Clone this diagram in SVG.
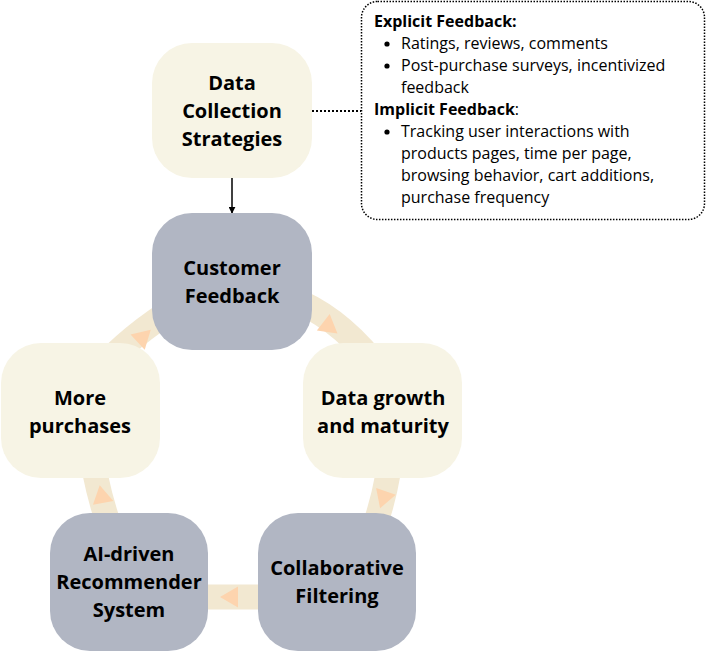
<svg xmlns="http://www.w3.org/2000/svg" width="707" height="651" viewBox="0 0 707 651">
<defs>
<style>
.cream{fill:#f7f4e5;}
.grey{fill:#b1b6c3;}
.lbl{font-family:"Open Sans","DejaVu Sans",sans-serif;font-weight:bold;font-size:20px;fill:#000;text-anchor:middle;}
.band{fill:none;stroke:#f2e8d1;stroke-width:25;}
.tri{fill:#fdd4ae;}
.note{font-family:"Open Sans","DejaVu Sans",sans-serif;font-size:16px;fill:#000;}
.b{font-weight:bold;}
.dot{fill:#000;}
</style>
<polygon id="tri" points="12,0 -6,-10.4 -6,10.4"/>
<marker id="ah" viewBox="0 0 10 10" refX="9" refY="5" markerWidth="7" markerHeight="7" orient="auto" markerUnits="userSpaceOnUse">
<path d="M0,0 L10,5 L0,10 z" fill="#000"/>
</marker>
</defs>
<g id="connectors">
<path class="band" d="M 290 298 Q 335 315 372 360"/>
<path class="band" d="M 392 440 Q 389 490 368 545"/>
<path class="band" d="M 300 597 L 165 597"/>
<path class="band" d="M 90 440 Q 95 490 116 545"/>
<path class="band" d="M 95 375 Q 130 335 180 305"/>
<use href="#tri" class="tri" transform="translate(328,326) rotate(38)"/>
<use href="#tri" class="tri" transform="translate(384,497) rotate(109)"/>
<use href="#tri" class="tri" transform="translate(232,597) rotate(180)"/>
<use href="#tri" class="tri" transform="translate(102,497) rotate(-101)"/>
<use href="#tri" class="tri" transform="translate(142,338) rotate(-43)"/>
<line x1="232" y1="178" x2="232" y2="213" stroke="#000" stroke-width="1.5" marker-end="url(#ah)"/>
<line x1="312" y1="111" x2="361" y2="111" stroke="#000" stroke-width="2" stroke-dasharray="2 2"/>
</g>
<g id="data-collection">
<rect class="cream" x="152" y="43" width="160" height="135" rx="40"/>
<text class="lbl" x="232" y="90">Data</text>
<text class="lbl" x="232" y="118">Collection</text>
<text class="lbl" x="232" y="146">Strategies</text>
</g>
<g id="customer-feedback">
<rect class="grey" x="152" y="213" width="160" height="137" rx="40"/>
<text class="lbl" x="232" y="275">Customer</text>
<text class="lbl" x="232" y="303">Feedback</text>
</g>
<g id="data-growth">
<rect class="cream" x="303" y="343" width="159" height="135" rx="40"/>
<text class="lbl" x="383" y="405">Data growth</text>
<text class="lbl" x="383" y="433">and maturity</text>
</g>
<g id="collaborative">
<rect class="grey" x="258" y="513" width="158" height="138" rx="40"/>
<text class="lbl" x="337" y="575">Collaborative</text>
<text class="lbl" x="337" y="603">Filtering</text>
</g>
<g id="ai-driven">
<rect class="grey" x="50" y="513" width="158" height="138" rx="40"/>
<text class="lbl" x="129" y="561">AI-driven</text>
<text class="lbl" x="129" y="589">Recommender</text>
<text class="lbl" x="129" y="617">System</text>
</g>
<g id="more-purchases">
<rect class="cream" x="1" y="343" width="159" height="135" rx="40"/>
<text class="lbl" x="80" y="405">More</text>
<text class="lbl" x="80" y="433">purchases</text>
</g>
<g id="feedback-note">
<rect x="361.5" y="1.5" width="343" height="218" rx="16" fill="#fff" stroke="#000" stroke-width="1.5" stroke-dasharray="1.5 1.5"/>
<text class="note b" x="374" y="27">Explicit Feedback:</text>
<circle class="dot" cx="387" cy="44" r="2.6"/>
<text class="note" x="401" y="49">Ratings, reviews, comments</text>
<circle class="dot" cx="387" cy="66" r="2.6"/>
<text class="note" x="401" y="71">Post-purchase surveys, incentivized</text>
<text class="note" x="401" y="93">feedback</text>
<text class="note" x="374" y="115"><tspan class="b">Implicit Feedback</tspan>:</text>
<circle class="dot" cx="387" cy="132" r="2.6"/>
<text class="note" x="401" y="137">Tracking user interactions with</text>
<text class="note" x="401" y="159">products pages, time per page,</text>
<text class="note" x="401" y="181">browsing behavior, cart additions,</text>
<text class="note" x="401" y="203">purchase frequency</text>
</g>
</svg>
